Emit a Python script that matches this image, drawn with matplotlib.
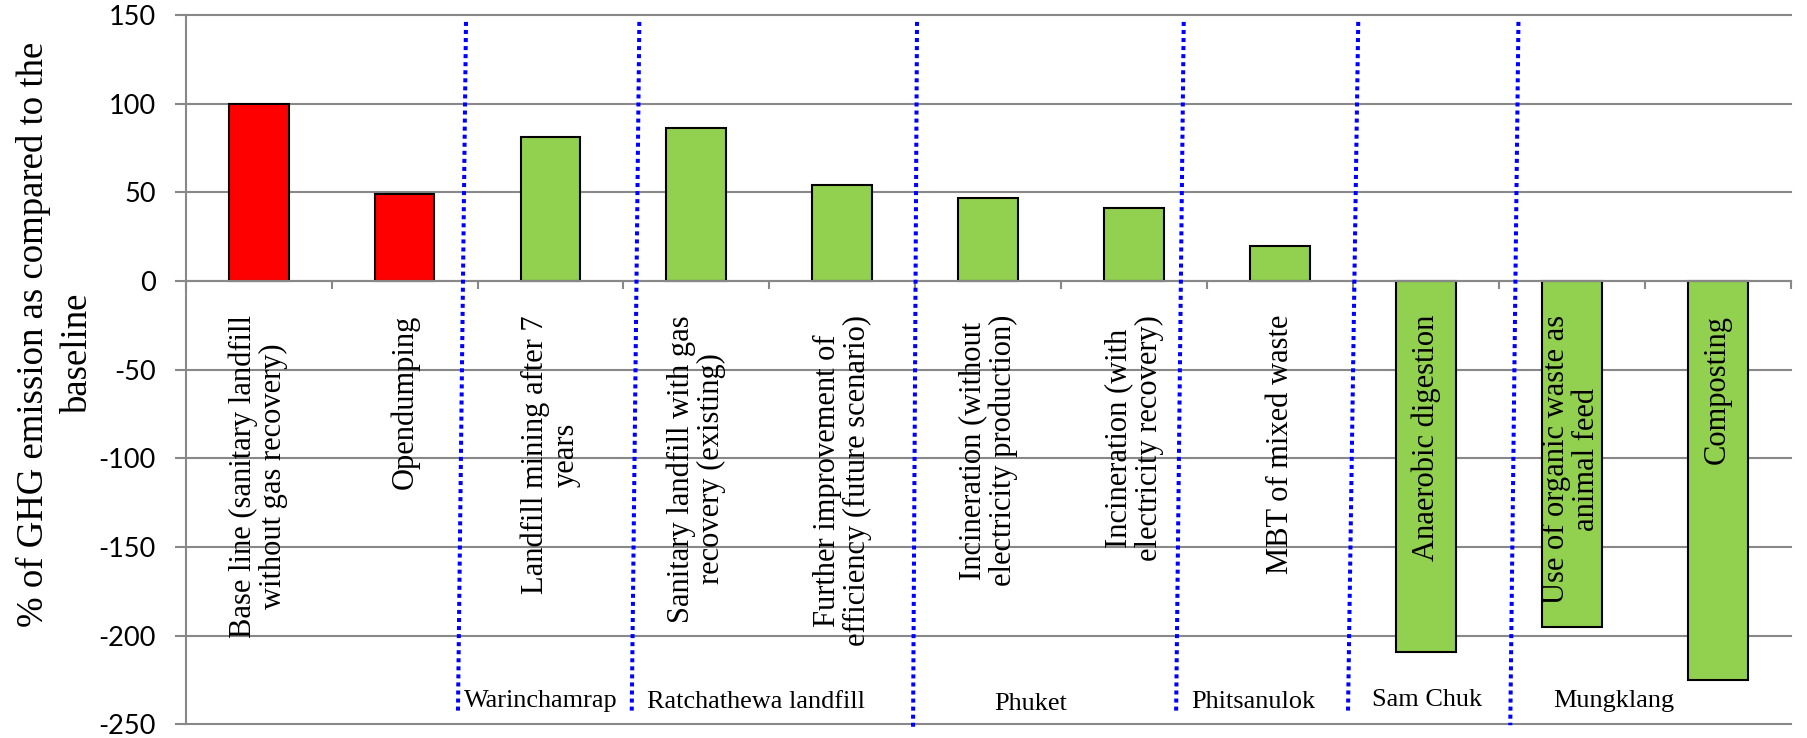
import numpy as np
import matplotlib
matplotlib.use("Agg")
import matplotlib.pyplot as plt

plt.rcParams["axes.unicode_minus"] = False

# Scenario names (x categories)
scenarios = [
    "Base line (sanitary landfill\nwithout gas recovery)",
    "Opendumping",
    "Landfill mining after 7\nyears",
    "Sanitary landfill with gas\nrecovery (existing)",
    "Further improvement of\nefficiency (future scenario)",
    "Incineration (without\nelectricity production)",
    "Incineration (with\nelectricity recovery)",
    "MBT of mixed waste",
    "Anaerobic digestion",
    "Use of organic waste as\nanimal feed",
    "Composting",
]

# GHG emission relative to the baseline (%)
ghg_percent = [100, 49, 81, 86, 54, 47, 41, 20, -209, -195, -225]

# Scenario type: current/reference practice vs. alternative option
scenario_type = ["reference", "reference", "alternative", "alternative",
                 "alternative", "alternative", "alternative", "alternative",
                 "alternative", "alternative", "alternative"]

# Case-study sites written along the bottom of the chart
sites = ["Warinchamrap", "Ratchathewa landfill", "Phuket",
         "Phitsanulok", "Sam Chuk", "Mungklang"]

y_ticks = [-250, -200, -150, -100, -50, 0, 50, 100, 150]
y_label_lines = ["% of GHG emission as compared to the", "baseline"]

# ---------------------------------------------------------------- styling
GRID = "#888888"
TYPE_COLORS = {"reference": "#FF0000", "alternative": "#92D050"}
SERIF = ["Liberation Serif", "DejaVu Serif"]
SANS = ["Lato", "DejaVu Sans"]

W, H = 1808, 738
fig = plt.figure(figsize=(W / 100, H / 100), dpi=100)
ax_left, ax_right, ax_top, ax_bottom = 185.7, 1790.7, 15.0, 724.3
ax = fig.add_axes([ax_left / W, 1 - ax_bottom / H,
                   (ax_right - ax_left) / W, (ax_bottom - ax_top) / H])

n = len(scenarios)
xpos = np.arange(n) + 0.5
colors = [TYPE_COLORS[t] for t in scenario_type]
ax.bar(xpos, ghg_percent, width=0.41, color=colors, edgecolor="black",
       linewidth=1.5, zorder=2)

ax.set_xlim(0, n)
ax.set_ylim(min(y_ticks), max(y_ticks))

# horizontal gridlines behind the bars
ax.set_axisbelow(True)
ax.set_yticks(y_ticks)
ax.yaxis.grid(True, color=GRID, linewidth=1.5)
for gl in ax.get_ygridlines():
    gl.set_clip_on(False)
ax.tick_params(axis="y", direction="out", length=7.7, width=1.5, color=GRID,
               pad=14, labelsize=19.5)
for lab in ax.get_yticklabels():
    lab.set_fontfamily(SANS)

# category axis running along zero, ticks at category boundaries
for side in ("top", "right"):
    ax.spines[side].set_visible(False)
ax.spines["left"].set_color(GRID)
ax.spines["left"].set_linewidth(1.5)
ax.spines["bottom"].set_position(("data", 0))
ax.spines["bottom"].set_color(GRID)
ax.spines["bottom"].set_linewidth(1.5)
ax.set_xticks(np.arange(0, n + 1))
ax.set_xticklabels([])
ax.tick_params(axis="x", direction="out", length=6, width=1.5, color=GRID)

# rotated scenario names hanging below the zero line (over negative bars)
for xc, name in zip(xpos, scenarios):
    ax.annotate(name, xy=(xc, 0), xytext=(0, -24.5), textcoords="offset points",
                rotation=90, ha="center", va="top", multialignment="center",
                fontsize=22, family=SERIF, linespacing=1.05, zorder=5,
                annotation_clip=False)

# dotted separators between case-study sites (top x, bottom x, bottom y)
separators = [(1.921, 1.866, -242.9), (3.109, 3.057, -242.9),
              (5.012, 4.985, -251.5), (6.840, 6.788, -242.9),
              (8.036, 7.966, -242.9), (9.134, 9.078, -250.5)]
for xt, xb, yb in separators:
    ax.plot([xt, xb], [146.1, yb], color="#0000FF", linewidth=2.9,
            linestyle=(0, (1, 1)), clip_on=False, zorder=4)

site_x = [2.435, 3.909, 5.79, 7.315, 8.51, 9.79]
site_y = [-240.5, -241.0, -242.0, -241.0, -239.5, -240.3]
for xs, ys, name in zip(site_x, site_y, sites):
    ax.text(xs, ys, name, ha="center", va="baseline", fontsize=18.9,
            family=SERIF, zorder=5)

# two-line y-axis title
for (xc, yc), line in zip([(33, 334), (78, 353)], y_label_lines):
    fig.text(xc / W, 1 - yc / H, line, rotation=90, ha="center", va="center",
             fontsize=26.5, family=SERIF)

fig.savefig("out.png", dpi=100, facecolor="white")
